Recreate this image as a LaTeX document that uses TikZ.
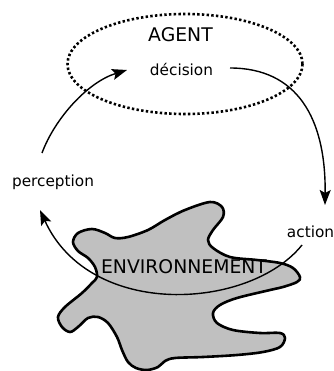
\documentclass[tikz,border=0pt]{standalone}
\usepackage{fontspec}
\setmainfont{DejaVu Sans}
\usetikzlibrary{arrows.meta}
\definecolor{blobgrey}{RGB}{192,192,192}
\begin{document}
\begin{tikzpicture}[x=1pt,y=-1pt,
  lbl/.style={inner sep=0pt, font=\fontsize{15.3}{18}\selectfont},
  big/.style={inner sep=0pt, font=\fontsize{18.8}{22}\selectfont},
  flow/.style={line width=1.4pt, -{Stealth[length=15pt,width=11pt,inset=3pt]}},
  agentring/.style={line width=2.6pt, dash pattern=on 2.4pt off 2.3pt},
  blob/.style={fill=blobgrey, draw=black, line width=2.6pt, line join=round}]
\useasboundingbox (0,0) rectangle (333,371);
% agent ellipse
\draw[agentring] (185,64) ellipse [x radius=117.5, y radius=50];
\node[big] (agent) at (180.5,34.5) {AGENT};
\node[lbl, anchor=base] (dec) at (181.5,76) {décision};
% environment blob
\draw[blob] plot[smooth cycle, tension=0.55] coordinates {
 (73,242) (78,233) (92,229) (105,233) (115,238) (128,237) (148,230) (165,220)
 (185,210) (210,202) (222,207) (223,217) (213,230) (208,240) (213,248)
 (230,257) (257,260) (280,263) (293,268) (300,277) (297,282) (283,287)
 (270,290) (237,298) (220,305) (213,313) (217,323) (233,330) (260,333)
 (280,333) (285,338) (280,347) (263,352) (237,355) (203,357) (175,358)
 (165,361) (158,367) (147,370) (136,368) (128,362) (122,350) (117,337)
 (108,323) (98,317) (88,318) (78,327) (70,332) (62,327) (58,317) (65,307)
 (82,293) (92,283) (97,277) (95,267) (88,258) (78,251)};
\node[lbl, anchor=base] (perc) at (53,186) {perception};
\node[lbl, anchor=base] (act) at (310.5,237) {action};
% connector end points
\coordinate (percout) at (42,153);
\coordinate (decin) at (127,70);
\coordinate (decout) at (230,68);
\coordinate (actin) at (325,205);
\coordinate (actout) at (302,245);
\coordinate (percin) at (40,210);
\draw[flow] (percout) .. controls (55,118) and (88,82) .. (decin);
\draw[flow] (decout) .. controls (297,68) and (326,118) .. (actin);
\draw[flow] (actout) .. controls (250,310) and (90,320) .. (percin);
\node[big, anchor=base] (env) at (184,273) {ENVIRONNEMENT};
\end{tikzpicture}
\end{document}
